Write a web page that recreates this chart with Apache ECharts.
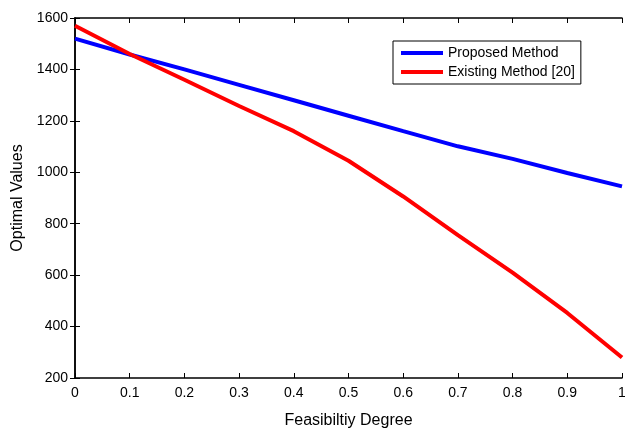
<!DOCTYPE html>
<html><head><meta charset="utf-8">
<script src="https://cdn.jsdelivr.net/npm/echarts@6/dist/echarts.min.js"></script>
<style>html,body{margin:0;padding:0;background:#fff}#c{width:625px;height:430px}</style>
</head><body><div id="c"></div>
<script>
const degrees = [0, 0.1, 0.2, 0.3, 0.4, 0.5, 0.6, 0.7, 0.8, 0.9, 1];
const proposed = [1520, 1458, 1400, 1340, 1280, 1220, 1160, 1101, 1052, 997, 945];
const existing = [1570, 1460, 1360, 1258, 1160, 1045, 906, 756, 610, 453, 280];
const seriesNames = ['Proposed Method', 'Existing Method [20]'];
const xTitle = 'Feasibiltiy Degree';
const yTitle = 'Optimal Values';

const font = 'Liberation Sans, Arial, sans-serif';
const chart = echarts.init(document.getElementById('c'), null, {renderer: 'canvas'});
const axisLine = {show: true, lineStyle: {color: '#000', width: 1.5}};
const tick = {show: true, inside: true, length: 5, lineStyle: {color: '#000', width: 1}};
chart.setOption({
  animation: false,
  backgroundColor: '#fff',
  grid: {left: 75, right: 3, top: 18, bottom: 52, outerBoundsMode: 'none', containLabel: false},
  legend: {
    data: seriesNames, orient: 'vertical', left: 393, top: 41,
    backgroundColor: '#fff', borderColor: '#000', borderWidth: 1,
    padding: [5, 6, 5, 8], itemGap: 5, itemWidth: 42, itemHeight: 4, icon: 'rect',
    textStyle: {fontFamily: font, fontSize: 14, color: '#000'}
  },
  xAxis: [{
    type: 'value', min: 0, max: 1, interval: 0.1,
    name: xTitle, nameLocation: 'middle', nameGap: 35,
    nameTextStyle: {fontFamily: font, fontSize: 16, color: '#000'},
    axisLine, axisTick: tick, splitLine: {show: false},
    axisLabel: {fontFamily: font, fontSize: 14, color: '#000', margin: 8, formatter: v => String(v)}
  }, {
    type: 'value', min: 0, max: 1, interval: 0.1, position: 'top',
    axisLine, axisTick: tick, splitLine: {show: false}, axisLabel: {show: false}
  }],
  yAxis: [{
    type: 'value', min: 200, max: 1600, interval: 200,
    name: yTitle, nameLocation: 'middle', nameGap: 47,
    nameTextStyle: {fontFamily: font, fontSize: 16, color: '#000'},
    axisLine, axisTick: tick, splitLine: {show: false},
    axisLabel: {fontFamily: font, fontSize: 14, color: '#000', margin: 7, formatter: v => String(v)}
  }, {
    type: 'value', min: 200, max: 1600, interval: 200, position: 'right',
    axisLine, axisTick: tick, splitLine: {show: false}, axisLabel: {show: false}
  }],
  series: [{
    name: seriesNames[0], type: 'line', showSymbol: false,
    data: degrees.map((d, i) => [d, proposed[i]]),
    lineStyle: {color: '#0000ff', width: 4}, itemStyle: {color: '#0000ff'}
  }, {
    name: seriesNames[1], type: 'line', showSymbol: false,
    data: degrees.map((d, i) => [d, existing[i]]),
    lineStyle: {color: '#ff0000', width: 4}, itemStyle: {color: '#ff0000'}
  }]
});
</script></body></html>
